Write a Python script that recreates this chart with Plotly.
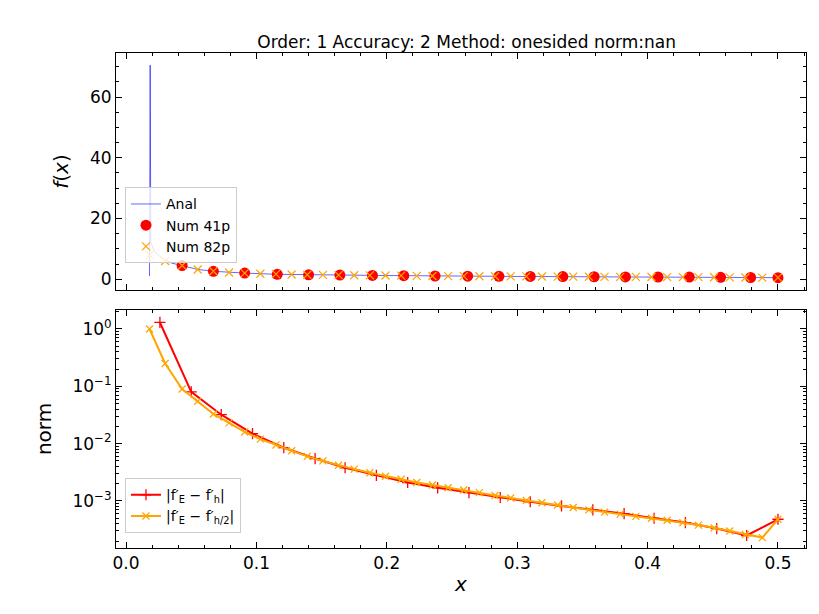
import plotly.graph_objects as go
from plotly.subplots import make_subplots

# top panel
anal_x = [0.0180, 0.0185, 0.019, 0.022, 0.026, 0.030, 0.035, 0.043, 0.055, 0.067, 0.080, 0.091,
          0.116, 0.150, 0.200, 0.300, 0.400, 0.500]
anal_y = [1.0, 70.5, 12.0, 9.0, 7.5, 6.2, 5.3, 4.5, 3.2, 2.6, 2.2, 2.0, 1.6, 1.4, 1.2, 0.9, 0.7, 0.5]

num41_x = [0.043, 0.067, 0.091, 0.116, 0.140, 0.164, 0.189, 0.213, 0.237, 0.262, 0.286, 0.310,
           0.335, 0.359, 0.383, 0.408, 0.432, 0.456, 0.479, 0.500]
num41_y = [4.5, 2.6, 2.0, 1.6, 1.45, 1.35, 1.25, 1.15, 1.05, 1.0, 0.95, 0.9, 0.85, 0.8, 0.75,
           0.72, 0.68, 0.62, 0.55, 0.5]

num82_x = [0.018, 0.030, 0.043, 0.055, 0.067, 0.079, 0.091, 0.103, 0.115, 0.127, 0.139, 0.151,
           0.163, 0.175, 0.187, 0.199, 0.211, 0.223, 0.235, 0.247, 0.259, 0.271, 0.283, 0.295,
           0.307, 0.319, 0.331, 0.343, 0.355, 0.367, 0.379, 0.391, 0.403, 0.415, 0.427, 0.439,
           0.451, 0.463, 0.475, 0.488, 0.500]
num82_y = [8.0, 6.0, 4.5, 3.2, 2.6, 2.2, 2.0, 1.8, 1.65, 1.55, 1.45, 1.4, 1.35, 1.3, 1.25, 1.2,
           1.15, 1.1, 1.05, 1.02, 1.0, 0.97, 0.95, 0.92, 0.9, 0.88, 0.85, 0.83, 0.8, 0.78, 0.75,
           0.74, 0.72, 0.7, 0.68, 0.65, 0.62, 0.6, 0.55, 0.52, 0.5]

# bottom panel
err_h_x = [0.026, 0.050, 0.073, 0.097, 0.121, 0.145, 0.168, 0.192, 0.216, 0.239, 0.263, 0.287,
           0.310, 0.334, 0.358, 0.382, 0.405, 0.429, 0.453, 0.476, 0.500]
err_h_y = [1.3, 0.08, 0.032, 0.015, 0.0085, 0.0055, 0.0038, 0.0028, 0.0021, 0.0017, 0.0014,
           0.00115, 0.00097, 0.00082, 0.0007, 0.0006, 0.0005, 0.00042, 0.00033, 0.00025, 0.00048]

err_h2_y = [1.0, 0.25, 0.09, 0.055, 0.033, 0.023, 0.016, 0.012, 0.0095, 0.0075, 0.006, 0.005,
            0.0042, 0.0036, 0.0031, 0.0027, 0.0024, 0.0021, 0.0019, 0.0017, 0.00155, 0.0014,
            0.00125, 0.00113, 0.00102, 0.00093, 0.00085, 0.00077, 0.0007, 0.00064, 0.00059,
            0.00054, 0.0005, 0.00046, 0.00042, 0.00038, 0.00034, 0.0003, 0.00026, 0.00023,
            0.00048]

log_ticks = [1, 0.1, 0.01, 0.001]
log_labels = ['10<sup>0</sup>', '10<sup>−1</sup>', '10<sup>−2</sup>', '10<sup>−3</sup>']

fig = make_subplots(rows=2, cols=1, shared_xaxes=True, vertical_spacing=0.04)

fig.add_trace(go.Scatter(x=anal_x, y=anal_y, mode='lines', name='Anal',
                         line=dict(color='blue', width=0.6), legend='legend'), row=1, col=1)
fig.add_trace(go.Scatter(x=num41_x, y=num41_y, mode='markers', name='Num 41p',
                         marker=dict(color='red', size=11), legend='legend'), row=1, col=1)
fig.add_trace(go.Scatter(x=num82_x, y=num82_y, mode='markers', name='Num 82p',
                         marker=dict(color='orange', size=8, symbol='x-thin',
                                     line=dict(color='orange', width=1.2)),
                         legend='legend'), row=1, col=1)

fig.add_trace(go.Scatter(x=err_h_x, y=err_h_y, mode='lines+markers',
                         name="|f′<sub>E</sub> − f′<sub>h</sub>|",
                         line=dict(color='red', width=2),
                         marker=dict(symbol='cross-thin', size=8, line=dict(color='red', width=1.3)),
                         legend='legend2'), row=2, col=1)
fig.add_trace(go.Scatter(x=num82_x, y=err_h2_y, mode='lines+markers',
                         name="|f′<sub>E</sub> − f′<sub>h/2</sub>|",
                         line=dict(color='orange', width=2),
                         marker=dict(symbol='x-thin', size=7, line=dict(color='orange', width=1.3)),
                         legend='legend2'), row=2, col=1)

axstyle = dict(showline=True, linecolor='black', mirror='ticks', ticks='inside',
               ticklen=6, tickcolor='black', showgrid=False, zeroline=False,
               tickfont=dict(size=17, color='black'),
               minor=dict(ticks='inside', ticklen=3, tickcolor='black'))

fig.update_xaxes(**axstyle, range=[-0.0077, 0.5215], dtick=0.1, tickformat='.1f')
fig.update_xaxes(title=dict(text='<i>x</i>', font=dict(size=20), standoff=4), row=2, col=1)
fig.update_xaxes(showticklabels=False, row=1, col=1)
fig.update_yaxes(**axstyle)
fig.update_yaxes(range=[-3.6, 74.5], dtick=20, title=dict(text='<i>f</i>(<i>x</i>)', font=dict(size=20)),
                 row=1, col=1)
fig.update_yaxes(type='log', range=[-3.82, 0.333], tickvals=log_ticks, ticktext=log_labels,
                 title=dict(text='norm', font=dict(size=20)), row=2, col=1)
fig.update_yaxes(minor=dict(ticks='inside', ticklen=3, tickcolor='black', dtick='D1'), row=2, col=1)

fig.update_layout(
    width=819, height=614, plot_bgcolor='white', paper_bgcolor='white',
    font=dict(family='DejaVu Sans', color='black'),
    margin=dict(l=108, r=21, t=45, b=74),
    title=dict(text='Order: 1 Accuracy: 2 Method: onesided norm:nan', x=0.56, y=0.955,
               xanchor='center', font=dict(size=17)),
    legend=dict(x=0.013, y=0.575, xanchor='left', yanchor='bottom', bgcolor='rgba(255,255,255,0.8)',
                bordercolor='#cccccc', borderwidth=1, font=dict(size=14)),
    legend2=dict(x=0.013, y=0.03, xanchor='left', yanchor='bottom', bgcolor='rgba(255,255,255,0.8)',
                 bordercolor='#cccccc', borderwidth=1, font=dict(size=14)),
)
fig.update_layout(yaxis_domain=[0.521, 1], yaxis2_domain=[0, 0.481])

fig.write_html("out.html")
